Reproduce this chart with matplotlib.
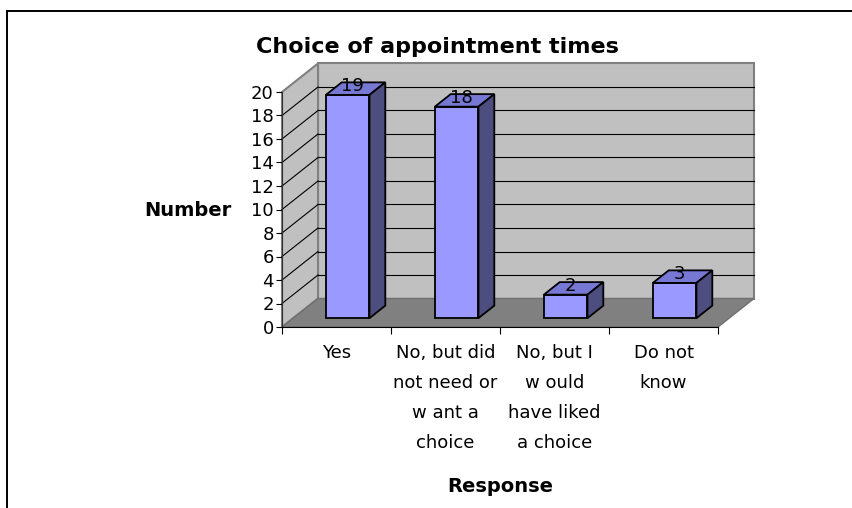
import numpy as np
import matplotlib
matplotlib.use("Agg")
import matplotlib.pyplot as plt
from matplotlib.patches import Polygon
from matplotlib.lines import Line2D
from matplotlib.transforms import IdentityTransform, ScaledTranslation

plt.rcParams['font.family'] = ['DejaVu Sans']

# ---- data ----
categories = ["Yes",
              "No, but did\nnot need or\nw ant a\nchoice",
              "No, but I\nw ould\nhave liked\na choice",
              "Do not\nknow"]
values = [19, 18, 2, 3]
y_ticks = [0, 2, 4, 6, 8, 10, 12, 14, 16, 18, 20]
title = "Choice of appointment times"
x_label = "Response"
y_label = "Number"

W, H, DPI = 852, 508, 100
fig = plt.figure(figsize=(W / DPI, H / DPI), dpi=DPI)
fig.patch.set_facecolor("white")

# front plane of the chart (pixel geometry)
x0, x1, ybot, ytop = 282, 718, 327, 92
ax = fig.add_axes([x0 / W, 1 - ybot / H, (x1 - x0) / W, (ybot - ytop) / H])
ax.set_xlim(-0.5, len(categories) - 0.5)
ax.set_ylim(0, 20)
ax.patch.set_visible(False)

DX, DY = 36.0, 28.5  # depth offset in pixels (full depth)

def P(x, y, d):
    p = ax.transData.transform((x, y))
    return (p[0] + d * DX, p[1] + d * DY)

def poly(pts, fc, ec, lw=1.0, z=1):
    pg = Polygon([P(*q) for q in pts], closed=True, facecolor=fc, edgecolor=ec,
                 linewidth=lw, transform=IdentityTransform(), clip_on=False, zorder=z,
                 joinstyle='miter')
    ax.add_patch(pg)

def seg(a, b, c="black", lw=0.8, z=1.5):
    pa, pb = P(*a), P(*b)
    ax.add_line(Line2D([pa[0], pb[0]], [pa[1], pb[1]], color=c, lw=lw,
                       transform=IdentityTransform(), clip_on=False, zorder=z))

xl, xr = -0.5, len(categories) - 0.5
wall = "#C0C0C0"
floor = "#808080"
# back wall, side wall, floor
poly([(xl, 0, 1), (xr, 0, 1), (xr, 20, 1), (xl, 20, 1)], wall, "#808080", 1.5, 1)
poly([(xl, 0, 0), (xl, 0, 1), (xl, 20, 1), (xl, 20, 0)], wall, "#808080", 1.5, 1)
# gridlines
for t in y_ticks[1:-1]:
    seg((xl, t, 1), (xr, t, 1))
    seg((xl, t, 0), (xl, t, 1))
poly([(xl, 0, 0), (xr, 0, 0), (xr, 0, 1), (xl, 0, 1)], floor, "#707070", 1.0, 2)

# bars
bw = 0.20
d0, d1 = 0.31, 0.75
front_c, top_c, side_c = "#9999FF", "#7777D4", "#4D4D80"
for i, v in enumerate(values):
    poly([(i - bw, 0, d0), (i + bw, 0, d0), (i + bw, v, d0), (i - bw, v, d0)], front_c, "black", 1.3, 3)
    poly([(i - bw, v, d0), (i + bw, v, d0), (i + bw, v, d1), (i - bw, v, d1)], top_c, "black", 1.3, 3)
    poly([(i + bw, 0, d0), (i + bw, 0, d1), (i + bw, v, d1), (i + bw, v, d0)], side_c, "black", 1.3, 3)
    lab_tr = ax.transData + ScaledTranslation(0.45 * DX / DPI, 0.45 * DY / DPI, fig.dpi_scale_trans)
    ax.text(i, v, str(v), transform=lab_tr, ha="center", va="baseline",
            fontsize=13, zorder=5)

# axes styling
for s in ["top", "right"]:
    ax.spines[s].set_visible(False)
ax.spines["left"].set_color("#303030")
ax.spines["bottom"].set_color("black")
ax.spines["left"].set_zorder(4)
ax.spines["bottom"].set_zorder(4)
ax.set_yticks(y_ticks)
ax.tick_params(axis="y", direction="out", length=4, width=0.8, pad=2, labelsize=13)
ax.set_xticks(np.arange(-0.5, len(categories), 1.0))
ax.set_xticklabels([])
ax.tick_params(axis="x", which="major", direction="out", length=5, width=0.8)
ax.set_xticks(range(len(categories)), minor=True)
ax.set_xticklabels(categories, minor=True, fontsize=13, linespacing=1.85)
ax.tick_params(axis="x", which="minor", length=0, pad=12.5)

ax.set_ylabel(y_label, rotation=0, fontsize=14, fontweight="bold", ha="center", va="baseline")
ax.yaxis.set_label_coords((188 - x0) / (x1 - x0), (ybot - 216) / (ybot - ytop))
ax.set_xlabel(x_label, fontsize=14, fontweight="bold", ha="center", va="baseline")
ax.xaxis.set_label_coords((500 - x0) / (x1 - x0), (ybot - 492) / (ybot - ytop))

fig.text(437 / W, 1 - 53 / H, title, ha="center", va="baseline",
         fontsize=16, fontweight="bold")

# outer border
fig.add_artist(Line2D([7 / W, 7 / W], [0, 1 - 11 / H], color="black", lw=1.4,
                      transform=fig.transFigure))
fig.add_artist(Line2D([7 / W, 1], [1 - 11 / H, 1 - 11 / H], color="black", lw=1.4,
                      transform=fig.transFigure))

fig.savefig("out.png", dpi=DPI)
